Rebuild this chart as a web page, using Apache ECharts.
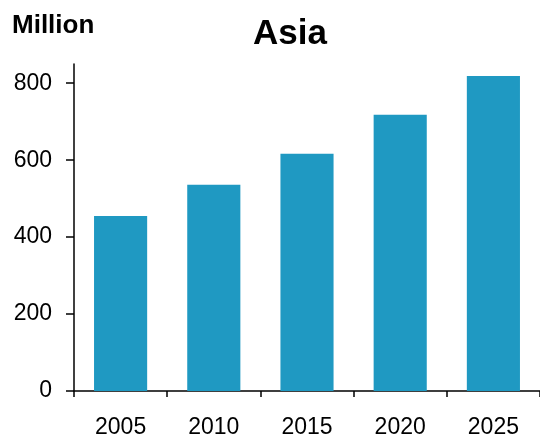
<!DOCTYPE html>
<html>
<head>
<meta charset="utf-8">
<script src="https://cdn.jsdelivr.net/npm/echarts@6/dist/echarts.min.js"></script>
<style>
html,body{margin:0;padding:0;background:#fff;}
#chart{width:540px;height:439px;}
</style>
</head>
<body>
<div id="chart"></div>
<script>
const categories = ['2005', '2010', '2015', '2020', '2025'];
const values = [455, 536, 617, 718, 819];
const yTicks = [0, 200, 400, 600, 800];
const titleText = 'Asia';
const unitText = 'Million';

const chart = echarts.init(document.getElementById('chart'), null, {renderer: 'canvas'});
const font = 'Liberation Sans, Arial, sans-serif';
chart.setOption({
  animation: false,
  backgroundColor: '#ffffff',
  title: [
    {text: titleText, left: 253, top: 17, padding: 0,
     textStyle: {fontFamily: font, fontSize: 35, fontWeight: 'bold', color: '#000'}},
    {text: unitText, left: 12, top: 13, padding: 0,
     textStyle: {fontFamily: font, fontSize: 26, fontWeight: 'bold', color: '#000'}}
  ],
  grid: {left: 74, right: 0, top: 64, bottom: 47, containLabel: false},
  xAxis: {
    type: 'category',
    data: categories,
    axisLine: {show: true, lineStyle: {color: '#000', width: 1.5}},
    axisTick: {show: true, length: 6, lineStyle: {color: '#000', width: 1.5}},
    axisLabel: {fontFamily: font, fontSize: 23, color: '#000', margin: 25}
  },
  yAxis: {
    type: 'value',
    min: 0,
    max: 850,
    axisLine: {show: true, lineStyle: {color: '#000', width: 1.5}},
    axisTick: {show: true, length: 8, customValues: yTicks, lineStyle: {color: '#000', width: 1.5}},
    axisLabel: {fontFamily: font, fontSize: 23, color: '#000', margin: 22, customValues: yTicks},
    splitLine: {show: false}
  },
  series: [{
    type: 'bar',
    data: values,
    barWidth: '57%',
    itemStyle: {color: '#1F99C2'}
  }]
});
</script>
</body>
</html>
